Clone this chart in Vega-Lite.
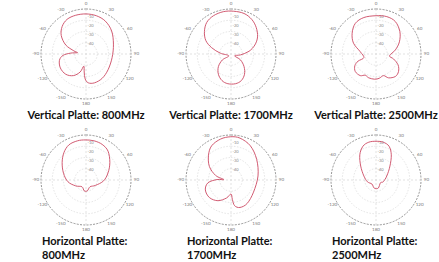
{
 "$schema": "https://vega.github.io/schema/vega-lite/v6.json",
 "padding": {"left": 27, "top": 0, "right": 0, "bottom": 0},
 "spacing": 5,
 "config": {
  "view": {"stroke": null},
  "title": {"font": "Lato", "fontSize": 11, "fontWeight": "bold", "color": "#111", "offset": 4, "lineHeight": 13.5},
  "line": {"stroke": "#cc4862", "strokeWidth": 0.9}
 },
 "datasets": {
  "rings": [{"r": 0.25}, {"r": 0.5}, {"r": 0.75}],
  "outer": [{"r": 1}],
  "axes": [{"x": -1, "y": 0, "x2": 1, "y2": 0}, {"x": 0, "y": -1, "x2": 0, "y2": 1}],
  "alabels": [
   {"x": 0, "y": 1.12, "t": "0"}, {"x": 0.56, "y": 0.97, "t": "30"}, {"x": 0.97, "y": 0.56, "t": "60"},
   {"x": 1.12, "y": 0, "t": "90"}, {"x": 0.97, "y": -0.56, "t": "120"}, {"x": 0.56, "y": -0.97, "t": "150"},
   {"x": 0, "y": -1.12, "t": "180"}, {"x": -0.56, "y": -0.97, "t": "-150"}, {"x": -0.97, "y": -0.56, "t": "-120"},
   {"x": -1.12, "y": 0, "t": "-90"}, {"x": -0.97, "y": 0.56, "t": "-60"}, {"x": -0.56, "y": 0.97, "t": "-30"}
  ],
  "rlabels": [
   {"x": 0.1, "y": 0.82, "t": "-10"}, {"x": 0.1, "y": 0.62, "t": "-20"},
   {"x": 0.1, "y": 0.42, "t": "-30"}, {"x": 0.1, "y": 0.22, "t": "-40"}
  ],
  "p1": [
   {"i":1,"x":-0.27,"y":0.07},{"i":2,"x":-0.45,"y":0.20},{"i":3,"x":-0.55,"y":0.41},{"i":4,"x":-0.53,"y":0.61},
   {"i":5,"x":-0.42,"y":0.77},{"i":6,"x":-0.23,"y":0.86},{"i":7,"x":0.00,"y":0.89},{"i":8,"x":0.23,"y":0.85},
   {"i":9,"x":0.43,"y":0.73},{"i":10,"x":0.57,"y":0.51},{"i":11,"x":0.61,"y":0.22},{"i":12,"x":0.58,"y":-0.08},
   {"i":13,"x":0.49,"y":-0.35},{"i":14,"x":0.36,"y":-0.54},{"i":15,"x":0.19,"y":-0.64},{"i":16,"x":0.05,"y":-0.64},
   {"i":17,"x":-0.02,"y":-0.55},{"i":18,"x":-0.04,"y":-0.40},{"i":19,"x":-0.05,"y":-0.27},{"i":20,"x":-0.13,"y":-0.40},
   {"i":21,"x":-0.28,"y":-0.48},{"i":22,"x":-0.45,"y":-0.45},{"i":23,"x":-0.57,"y":-0.31},{"i":24,"x":-0.59,"y":-0.14},
   {"i":25,"x":-0.51,"y":-0.03},{"i":26,"x":-0.34,"y":0.02},{"i":27,"x":-0.19,"y":0.03}
  ],
  "p2": [
   {"i":1,"x":-0.05,"y":-0.04},{"i":2,"x":-0.24,"y":0.02},{"i":3,"x":-0.43,"y":0.14},{"i":4,"x":-0.56,"y":0.30},
   {"i":5,"x":-0.59,"y":0.50},{"i":6,"x":-0.54,"y":0.70},{"i":7,"x":-0.39,"y":0.85},{"i":8,"x":-0.17,"y":0.94},
   {"i":9,"x":0.06,"y":0.95},{"i":10,"x":0.29,"y":0.90},{"i":11,"x":0.46,"y":0.77},{"i":12,"x":0.56,"y":0.59},
   {"i":13,"x":0.59,"y":0.38},{"i":14,"x":0.53,"y":0.20},{"i":15,"x":0.40,"y":0.06},{"i":16,"x":0.21,"y":-0.02},
   {"i":17,"x":0.08,"y":-0.04},{"i":18,"x":0.21,"y":-0.13},{"i":19,"x":0.29,"y":-0.28},{"i":20,"x":0.30,"y":-0.45},
   {"i":21,"x":0.23,"y":-0.59},{"i":22,"x":0.10,"y":-0.66},{"i":23,"x":-0.07,"y":-0.66},{"i":24,"x":-0.20,"y":-0.59},
   {"i":25,"x":-0.28,"y":-0.45},{"i":26,"x":-0.28,"y":-0.28},{"i":27,"x":-0.19,"y":-0.13}
  ],
  "p3": [
   {"i":1,"x":0,"y":0.85},{"i":2,"x":0.24,"y":0.83},{"i":3,"x":0.43,"y":0.72},{"i":4,"x":0.53,"y":0.50},
   {"i":5,"x":0.52,"y":0.27},{"i":6,"x":0.43,"y":0.09},{"i":7,"x":0.30,"y":-0.04},{"i":8,"x":0.39,"y":-0.11},
   {"i":9,"x":0.49,"y":-0.24},{"i":10,"x":0.50,"y":-0.39},{"i":11,"x":0.43,"y":-0.50},{"i":12,"x":0.28,"y":-0.53},
   {"i":13,"x":0.17,"y":-0.48},{"i":14,"x":0.07,"y":-0.54},{"i":15,"x":-0.03,"y":-0.56},{"i":16,"x":-0.16,"y":-0.53},
   {"i":17,"x":-0.24,"y":-0.47},{"i":18,"x":-0.35,"y":-0.48},{"i":19,"x":-0.46,"y":-0.39},{"i":20,"x":-0.47,"y":-0.26},
   {"i":21,"x":-0.40,"y":-0.16},{"i":22,"x":-0.27,"y":-0.08},{"i":23,"x":-0.35,"y":0.05},{"i":24,"x":-0.50,"y":0.24},
   {"i":25,"x":-0.53,"y":0.46},{"i":26,"x":-0.46,"y":0.68},{"i":27,"x":-0.27,"y":0.81}
  ],
  "p4": [
   {"i":1,"x":-0.01,"y":0.89},{"i":2,"x":0.18,"y":0.87},{"i":3,"x":0.36,"y":0.79},{"i":4,"x":0.49,"y":0.64},
   {"i":5,"x":0.53,"y":0.39},{"i":6,"x":0.49,"y":0.16},{"i":7,"x":0.39,"y":-0.02},{"i":8,"x":0.21,"y":-0.12},
   {"i":9,"x":0.09,"y":-0.15},{"i":10,"x":0.03,"y":-0.24},{"i":11,"x":-0.04,"y":-0.24},{"i":12,"x":-0.09,"y":-0.15},
   {"i":13,"x":-0.23,"y":-0.13},{"i":14,"x":-0.40,"y":-0.04},{"i":15,"x":-0.50,"y":0.15},{"i":16,"x":-0.53,"y":0.39},
   {"i":17,"x":-0.49,"y":0.61},{"i":18,"x":-0.38,"y":0.78},{"i":19,"x":-0.19,"y":0.87}
  ],
  "p5": [
   {"i":1,"x":-0.16,"y":0.01},{"i":2,"x":-0.34,"y":0.10},{"i":3,"x":-0.48,"y":0.30},{"i":4,"x":-0.50,"y":0.55},
   {"i":5,"x":-0.43,"y":0.76},{"i":6,"x":-0.23,"y":0.91},{"i":7,"x":-0.01,"y":0.96},{"i":8,"x":0.20,"y":0.93},
   {"i":9,"x":0.43,"y":0.76},{"i":10,"x":0.57,"y":0.46},{"i":11,"x":0.60,"y":0.09},{"i":12,"x":0.50,"y":-0.27},
   {"i":13,"x":0.36,"y":-0.52},{"i":14,"x":0.20,"y":-0.61},{"i":15,"x":0.08,"y":-0.57},{"i":16,"x":0.03,"y":-0.43},
   {"i":17,"x":0.00,"y":-0.31},{"i":18,"x":-0.10,"y":-0.40},{"i":19,"x":-0.29,"y":-0.46},{"i":20,"x":-0.48,"y":-0.39},
   {"i":21,"x":-0.57,"y":-0.22},{"i":22,"x":-0.51,"y":-0.06},{"i":23,"x":-0.31,"y":0.01}
  ],
  "p6": [
   {"i":1,"x":0,"y":0.86},{"i":2,"x":0.16,"y":0.84},{"i":3,"x":0.29,"y":0.75},{"i":4,"x":0.34,"y":0.56},
   {"i":5,"x":0.31,"y":0.31},{"i":6,"x":0.24,"y":0.09},{"i":7,"x":0.16,"y":-0.04},{"i":8,"x":0.10,"y":-0.06},
   {"i":9,"x":0.05,"y":-0.18},{"i":10,"x":-0.04,"y":-0.18},{"i":11,"x":-0.09,"y":-0.09},{"i":12,"x":-0.19,"y":-0.04},
   {"i":13,"x":-0.27,"y":0.09},{"i":14,"x":-0.34,"y":0.31},{"i":15,"x":-0.36,"y":0.56},{"i":16,"x":-0.29,"y":0.75},
   {"i":17,"x":-0.16,"y":0.84}
  ]
 },
 "vconcat": [
  {"hconcat": [
   {"width":108,"height":104,"title":{"text":"Vertical Platte: 800MHz","orient":"bottom","anchor":"middle"},
    "layer":[
     {"data":{"name":"rings"},"mark":{"type":"arc","theta":0,"theta2":6.2832,"filled":false,"stroke":"#d2d2d2","strokeWidth":0.6,"strokeDash":[1.5,1.5]},"encoding":{"radius":{"field":"r","type":"quantitative","stack":null,"scale":{"type":"linear","domain":[0,1],"range":[0,45],"zero":true}}}},
     {"data":{"name":"outer"},"mark":{"type":"arc","theta":0,"theta2":6.2832,"filled":false,"stroke":"#7a7a7a","strokeWidth":0.8,"strokeDash":[2,1.3]},"encoding":{"radius":{"field":"r","type":"quantitative","stack":null,"scale":{"type":"linear","domain":[0,1],"range":[0,45],"zero":true}}}},
     {"data":{"name":"axes"},"mark":{"type":"rule","stroke":"#cccccc","strokeWidth":0.6,"strokeDash":[2,2]},"encoding":{"x":{"field":"x","type":"quantitative","scale":{"domain":[-1.2,1.2],"nice":false,"zero":false},"axis":null},"y":{"field":"y","type":"quantitative","scale":{"domain":[-1.155,1.155],"nice":false,"zero":false},"axis":null},"x2":{"field":"x2"},"y2":{"field":"y2"}}},
     {"data":{"name":"alabels"},"mark":{"type":"text","fontSize":4.5,"fill":"#777777","font":"Lato"},"encoding":{"x":{"field":"x","type":"quantitative","axis":null},"y":{"field":"y","type":"quantitative","axis":null},"text":{"field":"t"}}},
     {"data":{"name":"rlabels"},"mark":{"type":"text","fontSize":4,"fill":"#888888","font":"Lato"},"encoding":{"x":{"field":"x","type":"quantitative","axis":null},"y":{"field":"y","type":"quantitative","axis":null},"text":{"field":"t"}}},
     {"data":{"name":"p1"},"mark":{"type":"line","interpolate":"cardinal-closed"},"encoding":{"x":{"field":"x","type":"quantitative","axis":null},"y":{"field":"y","type":"quantitative","axis":null},"order":{"field":"i","type":"quantitative"}}}
    ]},
   {"width":108,"height":104,"title":{"text":"Vertical Platte: 1700MHz","orient":"bottom","anchor":"middle"},
    "layer":[
     {"data":{"name":"rings"},"mark":{"type":"arc","theta":0,"theta2":6.2832,"filled":false,"stroke":"#d2d2d2","strokeWidth":0.6,"strokeDash":[1.5,1.5]},"encoding":{"radius":{"field":"r","type":"quantitative","stack":null,"scale":{"type":"linear","domain":[0,1],"range":[0,45],"zero":true}}}},
     {"data":{"name":"outer"},"mark":{"type":"arc","theta":0,"theta2":6.2832,"filled":false,"stroke":"#7a7a7a","strokeWidth":0.8,"strokeDash":[2,1.3]},"encoding":{"radius":{"field":"r","type":"quantitative","stack":null,"scale":{"type":"linear","domain":[0,1],"range":[0,45],"zero":true}}}},
     {"data":{"name":"axes"},"mark":{"type":"rule","stroke":"#cccccc","strokeWidth":0.6,"strokeDash":[2,2]},"encoding":{"x":{"field":"x","type":"quantitative","scale":{"domain":[-1.2,1.2],"nice":false,"zero":false},"axis":null},"y":{"field":"y","type":"quantitative","scale":{"domain":[-1.155,1.155],"nice":false,"zero":false},"axis":null},"x2":{"field":"x2"},"y2":{"field":"y2"}}},
     {"data":{"name":"alabels"},"mark":{"type":"text","fontSize":4.5,"fill":"#777777","font":"Lato"},"encoding":{"x":{"field":"x","type":"quantitative","axis":null},"y":{"field":"y","type":"quantitative","axis":null},"text":{"field":"t"}}},
     {"data":{"name":"rlabels"},"mark":{"type":"text","fontSize":4,"fill":"#888888","font":"Lato"},"encoding":{"x":{"field":"x","type":"quantitative","axis":null},"y":{"field":"y","type":"quantitative","axis":null},"text":{"field":"t"}}},
     {"data":{"name":"p2"},"mark":{"type":"line","interpolate":"cardinal-closed"},"encoding":{"x":{"field":"x","type":"quantitative","axis":null},"y":{"field":"y","type":"quantitative","axis":null},"order":{"field":"i","type":"quantitative"}}}
    ]},
   {"width":108,"height":104,"title":{"text":"Vertical Platte: 2500MHz","orient":"bottom","anchor":"middle"},
    "layer":[
     {"data":{"name":"rings"},"mark":{"type":"arc","theta":0,"theta2":6.2832,"filled":false,"stroke":"#d2d2d2","strokeWidth":0.6,"strokeDash":[1.5,1.5]},"encoding":{"radius":{"field":"r","type":"quantitative","stack":null,"scale":{"type":"linear","domain":[0,1],"range":[0,45],"zero":true}}}},
     {"data":{"name":"outer"},"mark":{"type":"arc","theta":0,"theta2":6.2832,"filled":false,"stroke":"#7a7a7a","strokeWidth":0.8,"strokeDash":[2,1.3]},"encoding":{"radius":{"field":"r","type":"quantitative","stack":null,"scale":{"type":"linear","domain":[0,1],"range":[0,45],"zero":true}}}},
     {"data":{"name":"axes"},"mark":{"type":"rule","stroke":"#cccccc","strokeWidth":0.6,"strokeDash":[2,2]},"encoding":{"x":{"field":"x","type":"quantitative","scale":{"domain":[-1.2,1.2],"nice":false,"zero":false},"axis":null},"y":{"field":"y","type":"quantitative","scale":{"domain":[-1.155,1.155],"nice":false,"zero":false},"axis":null},"x2":{"field":"x2"},"y2":{"field":"y2"}}},
     {"data":{"name":"alabels"},"mark":{"type":"text","fontSize":4.5,"fill":"#777777","font":"Lato"},"encoding":{"x":{"field":"x","type":"quantitative","axis":null},"y":{"field":"y","type":"quantitative","axis":null},"text":{"field":"t"}}},
     {"data":{"name":"rlabels"},"mark":{"type":"text","fontSize":4,"fill":"#888888","font":"Lato"},"encoding":{"x":{"field":"x","type":"quantitative","axis":null},"y":{"field":"y","type":"quantitative","axis":null},"text":{"field":"t"}}},
     {"data":{"name":"p3"},"mark":{"type":"line","interpolate":"cardinal-closed"},"encoding":{"x":{"field":"x","type":"quantitative","axis":null},"y":{"field":"y","type":"quantitative","axis":null},"order":{"field":"i","type":"quantitative"}}}
    ]}
  ], "spacing": 37, "bounds": "flush"},
  {"hconcat": [
   {"width":108,"height":104,"title":{"text":["Horizontal Platte:","800MHz"],"orient":"bottom","anchor":"start","align":"left","dx":10},
    "layer":[
     {"data":{"name":"rings"},"mark":{"type":"arc","theta":0,"theta2":6.2832,"filled":false,"stroke":"#d2d2d2","strokeWidth":0.6,"strokeDash":[1.5,1.5]},"encoding":{"radius":{"field":"r","type":"quantitative","stack":null,"scale":{"type":"linear","domain":[0,1],"range":[0,45],"zero":true}}}},
     {"data":{"name":"outer"},"mark":{"type":"arc","theta":0,"theta2":6.2832,"filled":false,"stroke":"#7a7a7a","strokeWidth":0.8,"strokeDash":[2,1.3]},"encoding":{"radius":{"field":"r","type":"quantitative","stack":null,"scale":{"type":"linear","domain":[0,1],"range":[0,45],"zero":true}}}},
     {"data":{"name":"axes"},"mark":{"type":"rule","stroke":"#cccccc","strokeWidth":0.6,"strokeDash":[2,2]},"encoding":{"x":{"field":"x","type":"quantitative","scale":{"domain":[-1.2,1.2],"nice":false,"zero":false},"axis":null},"y":{"field":"y","type":"quantitative","scale":{"domain":[-1.155,1.155],"nice":false,"zero":false},"axis":null},"x2":{"field":"x2"},"y2":{"field":"y2"}}},
     {"data":{"name":"alabels"},"mark":{"type":"text","fontSize":4.5,"fill":"#777777","font":"Lato"},"encoding":{"x":{"field":"x","type":"quantitative","axis":null},"y":{"field":"y","type":"quantitative","axis":null},"text":{"field":"t"}}},
     {"data":{"name":"rlabels"},"mark":{"type":"text","fontSize":4,"fill":"#888888","font":"Lato"},"encoding":{"x":{"field":"x","type":"quantitative","axis":null},"y":{"field":"y","type":"quantitative","axis":null},"text":{"field":"t"}}},
     {"data":{"name":"p4"},"mark":{"type":"line","interpolate":"cardinal-closed"},"encoding":{"x":{"field":"x","type":"quantitative","axis":null},"y":{"field":"y","type":"quantitative","axis":null},"order":{"field":"i","type":"quantitative"}}}
    ]},
   {"width":108,"height":104,"title":{"text":["Horizontal Platte:","1700MHz"],"orient":"bottom","anchor":"start","align":"left","dx":10},
    "layer":[
     {"data":{"name":"rings"},"mark":{"type":"arc","theta":0,"theta2":6.2832,"filled":false,"stroke":"#d2d2d2","strokeWidth":0.6,"strokeDash":[1.5,1.5]},"encoding":{"radius":{"field":"r","type":"quantitative","stack":null,"scale":{"type":"linear","domain":[0,1],"range":[0,45],"zero":true}}}},
     {"data":{"name":"outer"},"mark":{"type":"arc","theta":0,"theta2":6.2832,"filled":false,"stroke":"#7a7a7a","strokeWidth":0.8,"strokeDash":[2,1.3]},"encoding":{"radius":{"field":"r","type":"quantitative","stack":null,"scale":{"type":"linear","domain":[0,1],"range":[0,45],"zero":true}}}},
     {"data":{"name":"axes"},"mark":{"type":"rule","stroke":"#cccccc","strokeWidth":0.6,"strokeDash":[2,2]},"encoding":{"x":{"field":"x","type":"quantitative","scale":{"domain":[-1.2,1.2],"nice":false,"zero":false},"axis":null},"y":{"field":"y","type":"quantitative","scale":{"domain":[-1.155,1.155],"nice":false,"zero":false},"axis":null},"x2":{"field":"x2"},"y2":{"field":"y2"}}},
     {"data":{"name":"alabels"},"mark":{"type":"text","fontSize":4.5,"fill":"#777777","font":"Lato"},"encoding":{"x":{"field":"x","type":"quantitative","axis":null},"y":{"field":"y","type":"quantitative","axis":null},"text":{"field":"t"}}},
     {"data":{"name":"rlabels"},"mark":{"type":"text","fontSize":4,"fill":"#888888","font":"Lato"},"encoding":{"x":{"field":"x","type":"quantitative","axis":null},"y":{"field":"y","type":"quantitative","axis":null},"text":{"field":"t"}}},
     {"data":{"name":"p5"},"mark":{"type":"line","interpolate":"cardinal-closed"},"encoding":{"x":{"field":"x","type":"quantitative","axis":null},"y":{"field":"y","type":"quantitative","axis":null},"order":{"field":"i","type":"quantitative"}}}
    ]},
   {"width":108,"height":104,"title":{"text":["Horizontal Platte:","2500MHz"],"orient":"bottom","anchor":"start","align":"left","dx":10},
    "layer":[
     {"data":{"name":"rings"},"mark":{"type":"arc","theta":0,"theta2":6.2832,"filled":false,"stroke":"#d2d2d2","strokeWidth":0.6,"strokeDash":[1.5,1.5]},"encoding":{"radius":{"field":"r","type":"quantitative","stack":null,"scale":{"type":"linear","domain":[0,1],"range":[0,45],"zero":true}}}},
     {"data":{"name":"outer"},"mark":{"type":"arc","theta":0,"theta2":6.2832,"filled":false,"stroke":"#7a7a7a","strokeWidth":0.8,"strokeDash":[2,1.3]},"encoding":{"radius":{"field":"r","type":"quantitative","stack":null,"scale":{"type":"linear","domain":[0,1],"range":[0,45],"zero":true}}}},
     {"data":{"name":"axes"},"mark":{"type":"rule","stroke":"#cccccc","strokeWidth":0.6,"strokeDash":[2,2]},"encoding":{"x":{"field":"x","type":"quantitative","scale":{"domain":[-1.2,1.2],"nice":false,"zero":false},"axis":null},"y":{"field":"y","type":"quantitative","scale":{"domain":[-1.155,1.155],"nice":false,"zero":false},"axis":null},"x2":{"field":"x2"},"y2":{"field":"y2"}}},
     {"data":{"name":"alabels"},"mark":{"type":"text","fontSize":4.5,"fill":"#777777","font":"Lato"},"encoding":{"x":{"field":"x","type":"quantitative","axis":null},"y":{"field":"y","type":"quantitative","axis":null},"text":{"field":"t"}}},
     {"data":{"name":"rlabels"},"mark":{"type":"text","fontSize":4,"fill":"#888888","font":"Lato"},"encoding":{"x":{"field":"x","type":"quantitative","axis":null},"y":{"field":"y","type":"quantitative","axis":null},"text":{"field":"t"}}},
     {"data":{"name":"p6"},"mark":{"type":"line","interpolate":"cardinal-closed"},"encoding":{"x":{"field":"x","type":"quantitative","axis":null},"y":{"field":"y","type":"quantitative","axis":null},"order":{"field":"i","type":"quantitative"}}}
    ]}
  ], "spacing": 37, "bounds": "flush"}
 ]
}
